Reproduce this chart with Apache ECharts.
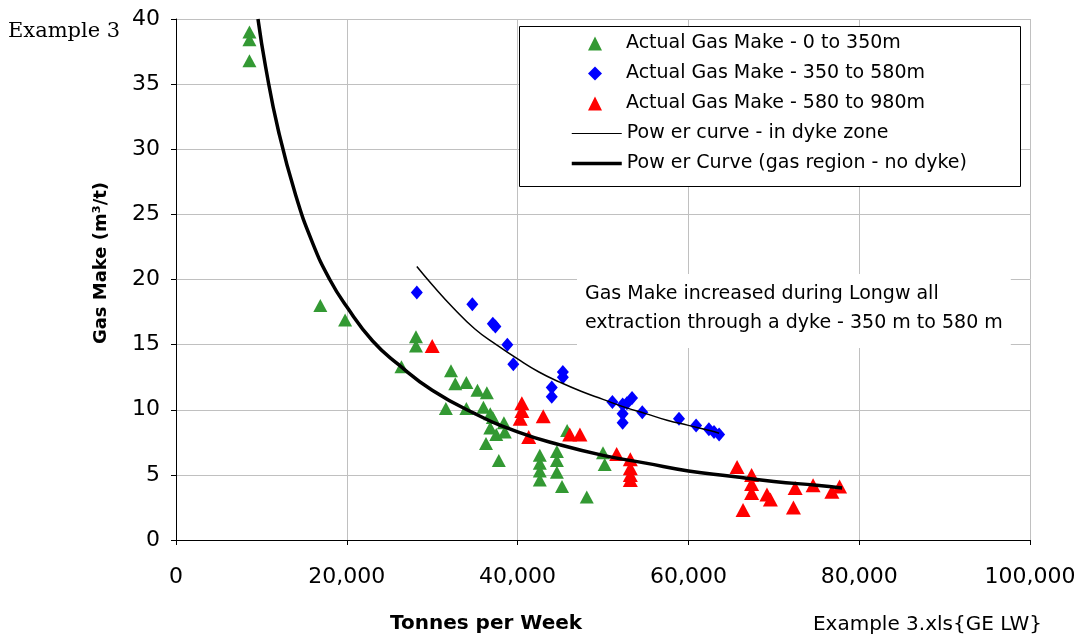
<!DOCTYPE html>
<html>
<head>
<meta charset="utf-8">
<script src="https://cdn.jsdelivr.net/npm/echarts@6/dist/echarts.min.js"></script>
<style>
  html, body { margin: 0; padding: 0; background: #fff; }
  #main { width: 1078px; height: 641px; }
</style>
</head>
<body>
<div id="main"></div>
<script>
// gas make readings, [tonnes per week, m3/t]
var shallowPts = [
  [8600, 39.0], [8600, 38.4], [8600, 36.8], [16900, 18.0], [19800, 16.9],
  [26400, 13.3], [28100, 15.6], [28100, 14.9], [31600, 10.1], [32200, 13.0],
  [32700, 12.0], [34000, 12.1], [35300, 11.5], [36400, 11.3], [34000, 10.1],
  [36000, 10.2], [36800, 9.7], [37100, 9.4], [38400, 9.0], [36800, 8.6],
  [37500, 8.1], [38500, 8.3], [36300, 7.4], [37800, 6.1], [42600, 6.5],
  [42600, 5.9], [42600, 5.3], [42600, 4.6], [44600, 6.8], [44600, 6.1],
  [44600, 5.2], [45200, 4.1], [45800, 8.4], [48100, 3.3], [50000, 6.7],
  [50200, 5.8]
];
var dykePts = [
  [28200, 19.0], [34700, 18.1], [37100, 16.6], [37400, 16.4], [38800, 15.0],
  [39500, 13.5], [44000, 11.7], [44000, 11.0], [45300, 12.9], [45300, 12.5],
  [51100, 10.6], [52300, 10.4], [52800, 10.5], [53400, 10.9], [52300, 9.7],
  [52300, 9.0], [54600, 9.8], [58900, 9.3], [60900, 8.8], [62400, 8.5],
  [63000, 8.3], [63600, 8.1]
];
var deepPts = [
  [30000, 14.9], [40500, 10.5], [40500, 9.9], [40300, 9.3], [41300, 7.9],
  [43000, 9.5], [46100, 8.1], [47300, 8.1], [51600, 6.6], [53200, 6.2],
  [53200, 5.5], [53200, 5.0], [53200, 4.6], [65700, 5.6], [67400, 5.0],
  [67400, 4.3], [67400, 3.6], [66400, 2.3], [69200, 3.5], [69600, 3.1],
  [72500, 4.0], [72300, 2.5], [74600, 4.2], [76800, 3.7], [77700, 4.1]
];
// trend lines
var dykeCurve = [
  [28200, 21.0], [30000, 19.6], [32500, 17.8], [35000, 16.2], [37500, 15.0],
  [40000, 13.9], [42500, 12.9], [45000, 12.1], [47500, 11.4], [50000, 10.8],
  [52500, 10.2], [55000, 9.7], [57500, 9.2], [60000, 8.8], [62500, 8.4],
  [63600, 8.2]
];
var gasCurve = [
  [9600, 40.0], [10500, 36.3], [12000, 31.4], [14000, 26.5], [16000, 22.8],
  [18000, 20.0], [20000, 17.9], [23000, 15.3], [26000, 13.5], [30000, 11.5],
  [35000, 9.7], [40000, 8.3], [45000, 7.3], [50000, 6.5], [55000, 5.9],
  [60000, 5.3], [65000, 4.9], [70000, 4.5], [75000, 4.2], [78000, 4.0]
];
var seriesNames = [
  'Actual Gas Make - 0 to 350m',
  'Actual Gas Make - 350 to 580m',
  'Actual Gas Make - 580 to 980m',
  'Pow er curve - in dyke zone',
  'Pow er Curve (gas region - no dyke)'
];

var dom = document.getElementById('main');
var myChart = echarts.init(dom, null, { renderer: 'canvas' });

var sans = 'DejaVu Sans';
var legendText = { fontFamily: sans, fontSize: 19, color: '#000' };

var option = {
  animation: false,
  backgroundColor: '#fff',
  grid: {
    left: 176, right: 48, top: 19, bottom: 101,
    outerBoundsMode: 'none'
  },
  xAxis: {
    type: 'value',
    min: 0, max: 100000, interval: 20000,
    axisLine: { lineStyle: { color: '#000', width: 1 } },
    axisTick: { show: true, length: 5, lineStyle: { color: '#000' } },
    splitLine: { show: true, lineStyle: { color: '#c0c0c0', width: 1 } },
    axisLabel: {
      color: '#000', fontFamily: sans, fontSize: 22, margin: 26,
      formatter: function (v) { return v.toLocaleString('en-US'); }
    }
  },
  yAxis: {
    type: 'value',
    min: 0, max: 40, interval: 5,
    axisLine: { show: true, lineStyle: { color: '#000', width: 1 } },
    axisTick: { show: true, length: 5, lineStyle: { color: '#000' } },
    splitLine: { show: true, lineStyle: { color: '#c0c0c0', width: 1 } },
    axisLabel: { color: '#000', fontFamily: sans, fontSize: 22, margin: 16 }
  },
  legend: [
    {
      // marker entries
      left: 588, top: 34,
      orient: 'vertical',
      itemWidth: 14, itemHeight: 14, itemGap: 11,
      padding: 0,
      textStyle: Object.assign({ padding: [0, 0, 0, 19] }, legendText),
      data: seriesNames.slice(0, 3)
    },
    {
      // curve entries
      left: 570, top: 124,
      orient: 'vertical',
      itemWidth: 50, itemHeight: 14, itemGap: 11,
      padding: 0,
      textStyle: legendText,
      data: [
        { name: seriesNames[3], itemStyle: { opacity: 0 },
          lineStyle: { color: '#000', width: 1.2, opacity: 1 } },
        { name: seriesNames[4], itemStyle: { opacity: 0 },
          lineStyle: { color: '#000', width: 3.5, opacity: 1 } }
      ]
    }
  ],
  graphic: [
    {
      type: 'rect', left: 519, top: 26, z: 3,
      shape: { width: 501, height: 160 },
      style: { fill: '#fff', stroke: '#000', lineWidth: 1 }
    },
    {
      type: 'text', left: 8, top: 21,
      style: { text: 'Example 3', font: '21px "DejaVu Serif"', fill: '#000' }
    },
    {
      type: 'text', x: 486, y: 624,
      style: {
        text: 'Tonnes per Week', font: 'bold 20px "DejaVu Sans"',
        fill: '#000', align: 'center', verticalAlign: 'middle'
      }
    },
    {
      type: 'text', x: 101, y: 263, rotation: Math.PI / 2,
      style: {
        text: 'Gas Make (m³/t)', font: 'bold 18px "DejaVu Sans"',
        fill: '#000', align: 'center', verticalAlign: 'middle'
      }
    },
    {
      type: 'text', x: 1042, y: 625,
      style: {
        text: 'Example 3.xls{GE LW}', font: '20px "DejaVu Sans"',
        fill: '#000', align: 'right', verticalAlign: 'middle'
      }
    },
    {
      type: 'text', left: 577, top: 274, z: 10,
      style: {
        text: 'Gas Make increased during Longw all\nextraction through a dyke - 350 m to 580 m',
        font: '19px "DejaVu Sans"', lineHeight: 29, fill: '#000',
        backgroundColor: '#fff', padding: [6, 8, 10, 8]
      }
    }
  ],
  series: [
    {
      name: seriesNames[0], type: 'scatter', data: shallowPts,
      symbol: 'triangle', symbolSize: [14, 13],
      itemStyle: { color: '#339933', opacity: 1 }
    },
    {
      name: seriesNames[1], type: 'scatter', data: dykePts,
      symbol: 'diamond', symbolSize: [12, 14],
      itemStyle: { color: '#0000ff', opacity: 1 }
    },
    {
      name: seriesNames[2], type: 'scatter', data: deepPts,
      symbol: 'triangle', symbolSize: [15, 14],
      itemStyle: { color: '#ff0000', opacity: 1 }
    },
    {
      name: seriesNames[3], type: 'line', data: dykeCurve,
      smooth: true, symbol: 'none', showSymbol: false,
      lineStyle: { color: '#000', width: 1.5 },
      itemStyle: { color: '#000' }
    },
    {
      name: seriesNames[4], type: 'line', data: gasCurve,
      smooth: true, symbol: 'none', showSymbol: false,
      lineStyle: { color: '#000', width: 3.5 },
      itemStyle: { color: '#000' }
    }
  ]
};

myChart.setOption(option);
window.addEventListener('resize', myChart.resize);
</script>
</body>
</html>
